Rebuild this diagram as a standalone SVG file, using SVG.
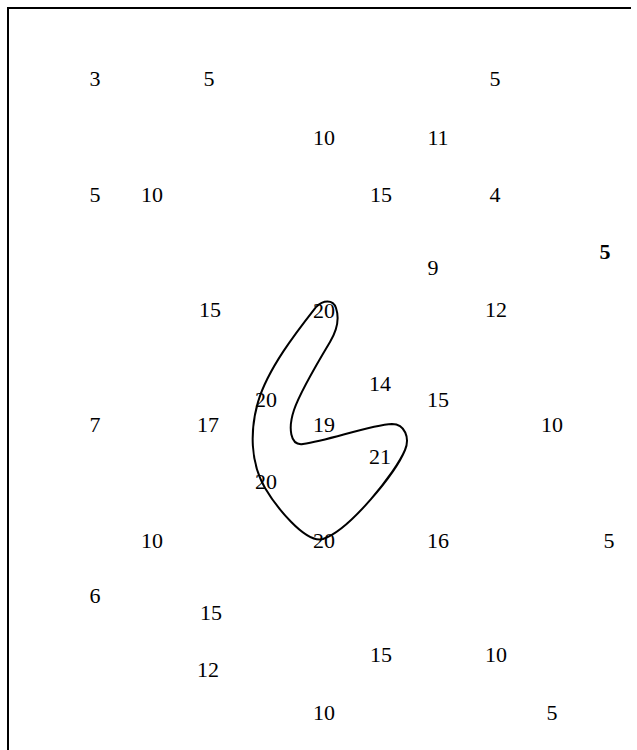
<svg xmlns="http://www.w3.org/2000/svg" width="637" height="750" viewBox="0 0 637 750">
<style>
text{font-family:"Liberation Serif","DejaVu Serif",serif;font-size:22px;fill:#000;text-anchor:middle}
.b{font-weight:bold}
.frame{stroke:#000;stroke-width:2;fill:none}
.curve{stroke:#000;stroke-width:2;fill:none}
</style>
<rect x="0" y="0" width="637" height="750" fill="#fff"/>
<g id="frame"><path class="frame" d="M8,750 V8 H631"/></g>
<g id="curve"><path class="curve" d="M316,307 C323,300 333,299 336,308 C340,320 336,332 330,342 C318,362 300,392 294,410 C288,428 290,446 303,444 C330,440 370,425 392,424 C405,424 410,438 405,450 C396,472 350,530 323,539 C305,544 275,505 265,488 C250,462 250,430 258,402 C268,368 298,330 316,307 Z"/></g>
<g id="labels">
<text x="95" y="86">3</text>
<text x="209" y="86">5</text>
<text x="495" y="86">5</text>
<text x="324" y="145">10</text>
<text x="438" y="145">11</text>
<text x="95" y="202">5</text>
<text x="152" y="202">10</text>
<text x="381" y="202">15</text>
<text x="495" y="202">4</text>
<text class="b" x="605" y="259">5</text>
<text x="433" y="275">9</text>
<text x="210" y="317">15</text>
<text x="324" y="318">20</text>
<text x="496" y="317">12</text>
<text x="380" y="391">14</text>
<text x="266" y="407">20</text>
<text x="438" y="407">15</text>
<text x="95" y="432">7</text>
<text x="208" y="432">17</text>
<text x="324" y="432">19</text>
<text x="552" y="432">10</text>
<text x="380" y="464">21</text>
<text x="266" y="489">20</text>
<text x="152" y="548">10</text>
<text x="324" y="548">20</text>
<text x="438" y="548">16</text>
<text x="609" y="548">5</text>
<text x="95" y="603">6</text>
<text x="211" y="620">15</text>
<text x="381" y="662">15</text>
<text x="496" y="662">10</text>
<text x="208" y="677">12</text>
<text x="324" y="720">10</text>
<text x="552" y="720">5</text>
</g>
</svg>
